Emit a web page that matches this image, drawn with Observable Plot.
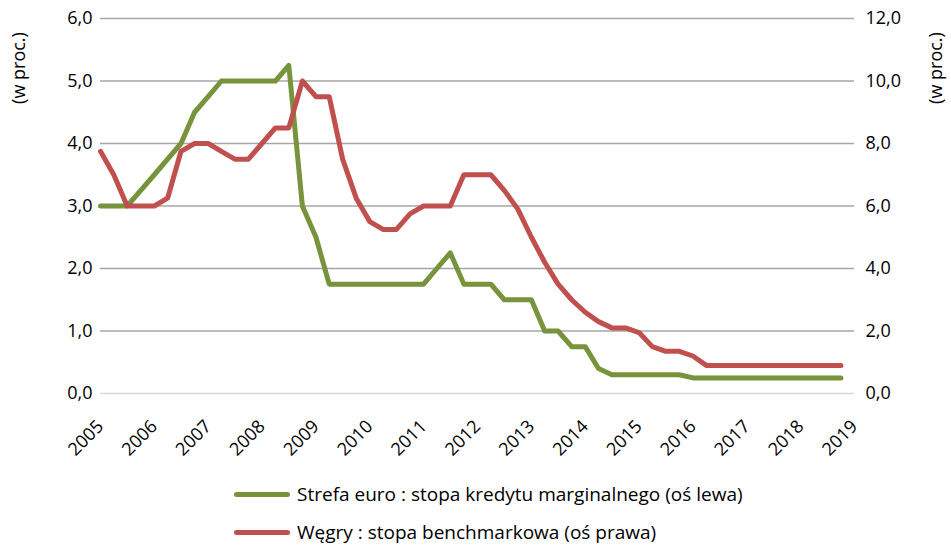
<!DOCTYPE html>
<html><head><meta charset="utf-8">
<script src="https://cdn.jsdelivr.net/npm/d3@7"></script>
<script src="https://cdn.jsdelivr.net/npm/@observablehq/plot@0.6"></script>
<style>
body{margin:0;background:#fff;font-family:"Open Sans",Lato,sans-serif;}
#wrap{position:relative;width:951px;height:545px;overflow:hidden;}
.legend{position:absolute;left:234px;font-size:19px;line-height:22px;color:#000;display:flex;align-items:center;height:22px;white-space:nowrap;}
.sw{width:56px;height:5px;border-radius:3px;margin-right:7px;}
.ytitle{position:absolute;width:100px;height:24px;line-height:24px;text-align:center;font-size:18px;color:#000;transform:rotate(-90deg);white-space:nowrap;}
</style></head><body><div id="wrap"></div>
<script>
const quarters = [
"2005-01","2005-04","2005-07","2005-10","2006-01","2006-04","2006-07","2006-10",
"2007-01","2007-04","2007-07","2007-10","2008-01","2008-04","2008-07","2008-10",
"2009-01","2009-04","2009-07","2009-10","2010-01","2010-04","2010-07","2010-10",
"2011-01","2011-04","2011-07","2011-10","2012-01","2012-04","2012-07","2012-10",
"2013-01","2013-04","2013-07","2013-10","2014-01","2014-04","2014-07","2014-10",
"2015-01","2015-04","2015-07","2015-10","2016-01","2016-04","2016-07","2016-10",
"2017-01","2017-04","2017-07","2017-10","2018-01","2018-04","2018-07","2018-10"];
const euroRate = [
3.0,3.0,3.0,3.25,3.5,3.75,4.0,4.5,
4.75,5.0,5.0,5.0,5.0,5.0,5.25,3.0,
2.5,1.75,1.75,1.75,1.75,1.75,1.75,1.75,
1.75,2.0,2.25,1.75,1.75,1.75,1.5,1.5,
1.5,1.0,1.0,0.75,0.75,0.4,0.3,0.3,
0.3,0.3,0.3,0.3,0.25,0.25,0.25,0.25,
0.25,0.25,0.25,0.25,0.25,0.25,0.25,0.25];
const hungaryRate = [
7.75,7.0,6.0,6.0,6.0,6.25,7.75,8.0,
8.0,7.75,7.5,7.5,8.0,8.5,8.5,10.0,
9.5,9.5,7.5,6.25,5.5,5.25,5.25,5.75,
6.0,6.0,6.0,7.0,7.0,7.0,6.5,5.9,
5.0,4.2,3.5,3.0,2.6,2.3,2.1,2.1,
1.95,1.5,1.35,1.35,1.2,0.9,0.9,0.9,
0.9,0.9,0.9,0.9,0.9,0.9,0.9,0.9];
const yearTicks = ["2005","2006","2007","2008","2009","2010","2011","2012","2013","2014","2015","2016","2017","2018","2019"];
const leftTicks = [0,1,2,3,4,5,6];
const rightTicks = [0,2,4,6,8,10,12];
const seriesNames = ["Strefa euro : stopa kredytu marginalnego (oś lewa)","Węgry : stopa benchmarkowa (oś prawa)"];
const colors = ["#77933C","#C0504D"];
const axisTitle = "(w proc.)";

const parseM = d3.utcParse("%Y-%m");
const parseY = d3.utcParse("%Y");
const euro = quarters.map((q,i)=>({date:parseM(q), v:euroRate[i]}));
const hun = quarters.map((q,i)=>({date:parseM(q), v:hungaryRate[i]/2}));
const fmt = d => d.toFixed(1).replace(".", ",");

const chart = Plot.plot({
  width: 951, height: 475,
  marginLeft: 100, marginRight: 97, marginTop: 18, marginBottom: 82,
  style: {fontSize: "18px", fontFamily: "'Open Sans', Lato, sans-serif", color: "#000", background: "#fff"},
  x: {type: "utc", domain: [parseY("2005"), parseY("2019")]},
  y: {domain: [0, 6]},
  marks: [
    Plot.ruleY(leftTicks.filter(d=>d>0), {stroke: "#A6A6A6", strokeWidth: 1.3}),
    Plot.ruleY([0], {stroke: "#D9D9D9", strokeWidth: 1.6}),
    Plot.axisY(leftTicks, {anchor: "left", tickSize: 0, tickPadding: 8, tickFormat: fmt, label: null}),
    Plot.axisY(rightTicks.map(d=>d/2), {anchor: "right", tickSize: 0, tickPadding: 11, tickFormat: d=>fmt(d*2), label: null}),
    Plot.axisX(yearTicks.map(parseY), {tickSize: 0, tickPadding: 30, tickRotate: -45, tickFormat: d3.utcFormat("%Y"), label: null}),
    Plot.line(euro, {x: "date", y: "v", stroke: colors[0], strokeWidth: 5, strokeLinejoin: "round", strokeLinecap: "round"}),
    Plot.line(hun, {x: "date", y: "v", stroke: colors[1], strokeWidth: 5, strokeLinejoin: "round", strokeLinecap: "round"})
  ]
});
const wrap = document.getElementById("wrap");
wrap.appendChild(chart);
[18, 935].forEach(cx=>{
  const t = document.createElement("div");
  t.className = "ytitle";
  t.textContent = axisTitle;
  t.style.left = (cx - 50) + "px";
  t.style.top = (68 - 12) + "px";
  wrap.appendChild(t);
});
seriesNames.forEach((name,i)=>{
  const row = document.createElement("div");
  row.className = "legend";
  row.style.top = (483 + i*38) + "px";
  const sw = document.createElement("span");
  sw.className = "sw"; sw.style.background = colors[i];
  const t = document.createElement("span"); t.textContent = name;
  row.appendChild(sw); row.appendChild(t);
  wrap.appendChild(row);
});
</script></body></html>
